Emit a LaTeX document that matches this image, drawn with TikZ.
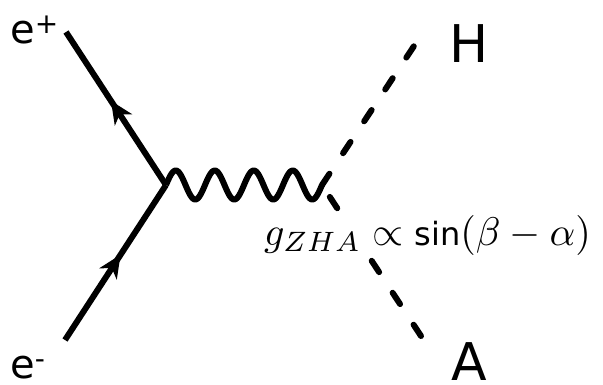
\documentclass[tikz,border=0pt]{standalone}
\usepackage{fontspec}
\newfontfamily\dv{DejaVu Sans}
\usetikzlibrary{decorations.markings,arrows.meta}
\tikzset{
  fermion/.style={line width=6pt,
    postaction={decorate,decoration={markings,mark=at position 0.55 with {\arrow{Stealth[length=23pt,width=21pt,inset=7pt,line width=0pt]}}}}},
  photon/.style={line width=6pt,line join=round},
  scalar/.style={line width=6pt,line cap=round,dash pattern=on 13.5pt off 24.7pt},
  lbl/.style={inner sep=0pt,anchor=base west},
}
\begin{document}
\begin{tikzpicture}[x=1pt,y=-1pt]
\useasboundingbox (0,0) rectangle (603,384);
\coordinate (v1) at (166,185);
\coordinate (v2) at (322,185);
\coordinate (ep) at (66,32);
\coordinate (em) at (65,340);
\coordinate (hend) at (414,46);
\coordinate (aend) at (421,336);
\draw[fermion] (v1) -- (ep);
\draw[fermion] (em) -- (v1);
\draw[photon,shift={(v1)}] plot[domain=0:156,samples=160,smooth] (\x,{-14.5*sin(9.230769*\x)});
\draw[scalar] (v2) -- (hend);
\draw[scalar] (aend) -- (v2);
\node[lbl] (lep) at (10,43) {\dv\fontsize{40}{48}\selectfont e\textsuperscript{+}};
\node[lbl] (lem) at (10,378) {\dv\fontsize{40}{48}\selectfont e\textsuperscript{-}};
\node[lbl] (lh) at (449,62) {\dv\fontsize{52}{60}\selectfont H};
\node[lbl] (la) at (451,380) {\dv\fontsize{52}{60}\selectfont A};
\node[lbl,fill=white,inner sep=0.3pt,scale=4] (lg) at (262,245) {$g_{ZHA}\propto\mbox{\dv\fontsize{8}{10}\selectfont sin}(\beta-\alpha)$};
\end{tikzpicture}
\end{document}
